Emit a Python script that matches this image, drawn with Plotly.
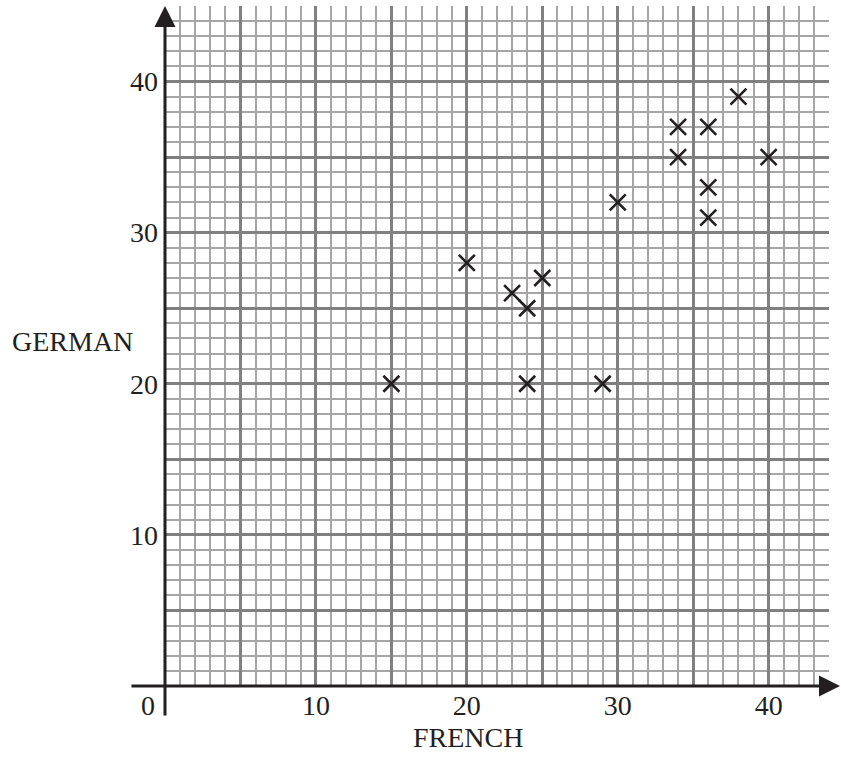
"""
French vs German marks scatter on graph paper
"""

import plotly.graph_objects as go

# data
french = [15, 20, 23, 24, 24, 25, 29, 30, 34, 34, 36, 36, 36, 38, 40]
german = [20, 28, 26, 25, 20, 27, 20, 32, 37, 35, 37, 33, 31, 39, 35]

x_tick_vals = [5, 10, 15, 20, 25, 30, 35, 40]
x_tick_text = ['', '10', '', '20', '', '30', '', '40']
y_tick_vals = [5, 10, 15, 20, 25, 30, 35, 40, 45]
y_tick_text = ['', '10', '', '20', '', '30', '', '40', '']

INK = '#231f20'
FONT = 'Liberation Serif, Times New Roman, serif'
MAJOR = '#808080'
MINOR = '#a6a6a6'

fig = go.Figure(go.Scatter(
    x=french, y=german,
    mode='markers',
    marker=dict(symbol='x-thin', size=16, line=dict(width=2.6, color=INK)),
    showlegend=False,
    hoverinfo='x+y'
))

axis_common = dict(
    showgrid=True, gridcolor=MAJOR, gridwidth=3,
    minor=dict(dtick=1, tick0=0, showgrid=True, gridcolor=MINOR, gridwidth=1.5),
    zeroline=False, showline=False, ticks='',
    tickfont=dict(family=FONT, size=28, color=INK),
    tickmode='array',
)

fig.update_xaxes(range=[0, 44], tickvals=x_tick_vals, ticktext=x_tick_text,
                 ticklabelstandoff=0, **axis_common)
fig.update_yaxes(range=[0, 45], tickvals=y_tick_vals, ticktext=y_tick_text,
                 ticklabelstandoff=6, **axis_common)

# axis lines with arrow heads (drawn from the tail to the tip)
fig.add_annotation(xref='paper', yref='paper', x=1.018, y=0,
                   axref='pixel', ayref='pixel', ax=-711, ay=0,
                   showarrow=True, arrowhead=2, arrowsize=1.4, arrowwidth=3,
                   arrowcolor=INK, text='')
fig.add_annotation(xref='paper', yref='paper', x=0, y=1.0,
                   axref='pixel', ayref='pixel', ax=0, ay=711,
                   showarrow=True, arrowhead=2, arrowsize=1.4, arrowwidth=3,
                   arrowcolor=INK, text='')

# origin label and axis titles
fig.add_annotation(xref='paper', yref='paper', x=-0.012, y=0, xanchor='right',
                   yanchor='top', yshift=-2, text='0', showarrow=False,
                   font=dict(family=FONT, size=28, color=INK))
fig.add_annotation(xref='paper', yref='paper', x=-0.045, y=0.506, xanchor='right',
                   yanchor='middle', text='GERMAN', showarrow=False,
                   font=dict(family=FONT, size=28, color=INK))
fig.add_annotation(xref='paper', yref='paper', x=0.456, y=-0.075, xanchor='center',
                   yanchor='middle', text='FRENCH', showarrow=False,
                   font=dict(family=FONT, size=28, color=INK))

fig.update_layout(
    width=841, height=757,
    margin=dict(l=165, r=12, t=6, b=71),
    plot_bgcolor='white',
    paper_bgcolor='white',
    font=dict(family=FONT, color=INK),
)

# drop the browser's default 8px body margin so the figure fills the window
fig.write_html("out.html", config={'displayModeBar': False},
               post_script="document.body.style.margin='0';")
